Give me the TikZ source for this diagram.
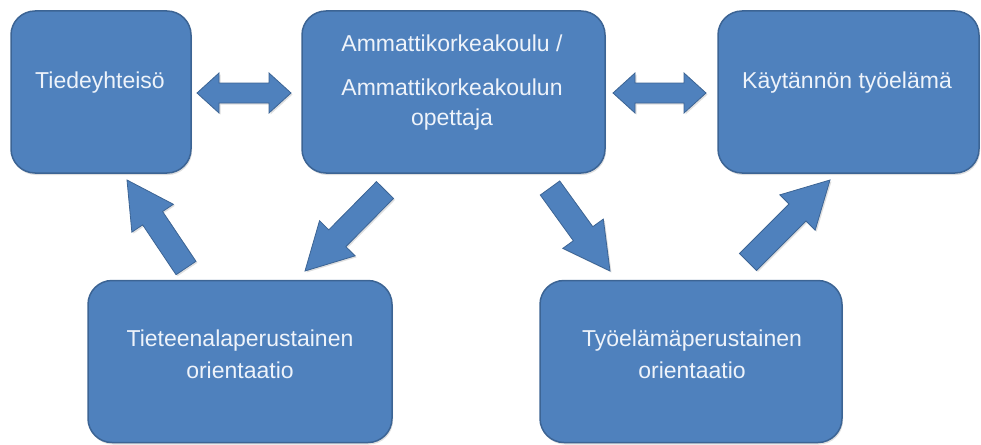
\documentclass[tikz,border=0pt]{standalone}
\usepackage{fontspec}
\setmainfont{Liberation Sans}
\usetikzlibrary{calc,shadows}
\definecolor{boxfill}{HTML}{4F81BD}
\definecolor{boxline}{HTML}{3C6494}
\definecolor{txt}{HTML}{EEF3FA}
\tikzset{
  box/.style={draw=boxline, line width=1.5pt, fill=boxfill, rounded corners=24pt, inner sep=0pt,
    drop shadow={opacity=0.25, shadow xshift=1pt, shadow yshift=-2pt}},
  lbl/.style={text=txt, font=\fontsize{23}{32}\selectfont, align=center, inner sep=0pt},
  blk/.style={draw=boxline, line width=0.8pt, fill=boxfill, line join=miter,
    drop shadow={opacity=0.25, shadow xshift=1.5pt, shadow yshift=-1.5pt}}
}
% #1 tail, #2 head, #3 shaft half, #4 head half, #5 head length
\newcommand\blockarr[5]{%
  \coordinate (ba-base) at ($(#2)!#5!(#1)$);
  \path[blk] ($(#1)!#3!90:(#2)$) -- ($(ba-base)!#3!90:(#2)$) -- ($(ba-base)!#4!90:(#2)$)
    -- (#2) -- ($(ba-base)!#4!-90:(#2)$) -- ($(ba-base)!#3!-90:(#2)$)
    -- ($(#1)!#3!-90:(#2)$) -- cycle;}
% #1 left tip, #2 right tip, #3 shaft half, #4 head half, #5 head length
\newcommand\dblarr[5]{%
  \coordinate (da-bl) at ($(#1)!#5!(#2)$);
  \coordinate (da-br) at ($(#2)!#5!(#1)$);
  \path[blk] (#1) -- ($(da-bl)!#4!90:(#2)$) -- ($(da-bl)!#3!90:(#2)$)
    -- ($(da-br)!#3!-90:(#1)$) -- ($(da-br)!#4!-90:(#1)$) -- (#2)
    -- ($(da-br)!#4!90:(#1)$) -- ($(da-br)!#3!90:(#1)$)
    -- ($(da-bl)!#3!-90:(#2)$) -- ($(da-bl)!#4!-90:(#2)$) -- cycle;}
\begin{document}
\begin{tikzpicture}[x=1pt,y=-1pt]
\useasboundingbox (0,0) rectangle (981,444);
% boxes
\node[box, minimum width=180pt, minimum height=162pt] (b1) at (101,92) {};
\node[box, minimum width=303pt, minimum height=162pt] (b2) at (453.5,92) {};
\node[box, minimum width=261pt, minimum height=162pt] (b3) at (848.5,92) {};
\node[box, minimum width=304pt, minimum height=162pt] (b4) at (240,361.5) {};
\node[box, minimum width=302pt, minimum height=162pt] (b5) at (691,361.5) {};
% texts
\node[lbl] (t1) at (100,83) {Tiedeyhteisö};
\node[lbl] (t2a) at (452,43) {Ammattikorkeakoulu /};
\node[lbl, font=\fontsize{23}{30}\selectfont] (t2b) at (452,105) {Ammattikorkeakoulun\\opettaja};
\node[lbl] (t3) at (847,83) {Käytännön työelämä};
\node[lbl] (t4) at (240,354) {Tieteenalaperustainen\\orientaatio};
\node[lbl] (t5) at (692,354) {Työelämäperustainen\\orientaatio};
% arrow end points
\coordinate (d1l) at (197,93);
\coordinate (d1r) at (291,93);
\coordinate (d2l) at (613,93);
\coordinate (d2r) at (706,93);
\coordinate (aT) at (186,268); \coordinate (aH) at (127,180);
\coordinate (bT) at (385,190); \coordinate (bH) at (305,271);
\coordinate (cT) at (550,188); \coordinate (cH) at (610,271);
\coordinate (dT) at (748,262); \coordinate (dH) at (830,180);
% arrows
\dblarr{d1l}{d1r}{10pt}{20pt}{22pt}
\dblarr{d2l}{d2r}{10pt}{20pt}{22pt}
\blockarr{aT}{aH}{12pt}{25pt}{46pt}
\blockarr{bT}{bH}{12pt}{25pt}{46pt}
\blockarr{cT}{cH}{12pt}{25pt}{46pt}
\blockarr{dT}{dH}{12pt}{25pt}{46pt}
\end{tikzpicture}
\end{document}
